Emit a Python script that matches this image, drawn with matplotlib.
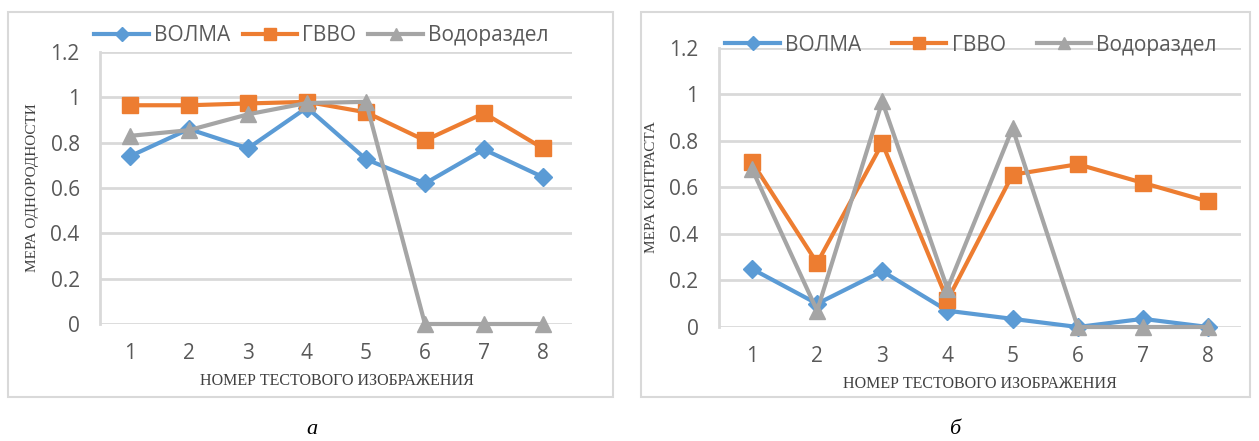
import matplotlib.pyplot as plt
from matplotlib.patches import Rectangle

# ---------------------------------------------- data ----------------------------------------------
images = [1, 2, 3, 4, 5, 6, 7, 8]
series_names = ['ВОЛМА', 'ГВВО', 'Водораздел']

# homogeneity measure
homog_volma = [0.74, 0.86, 0.775, 0.955, 0.727, 0.62, 0.77, 0.648]
homog_gvvo = [0.965, 0.965, 0.973, 0.98, 0.934, 0.81, 0.93, 0.775]
homog_vodo = [0.83, 0.855, 0.925, 0.975, 0.98, 0.0, 0.0, 0.0]

# contrast measure
contr_volma = [0.25, 0.10, 0.24, 0.07, 0.035, 0.0, 0.035, 0.0]
contr_gvvo = [0.71, 0.275, 0.79, 0.115, 0.655, 0.70, 0.62, 0.54]
contr_vodo = [0.68, 0.07, 0.97, 0.165, 0.855, 0.0, 0.0, 0.0]

y_ticks = [0, 0.2, 0.4, 0.6, 0.8, 1, 1.2]
y_tick_labels = ['0', '0.2', '0.4', '0.6', '0.8', '1', '1.2']

# ---------------------------------------------- style ----------------------------------------------
colors = ['#5B9BD5', '#ED7D31', '#A5A5A5']
markers = ['D', 's', '^']
msizes = [9, 12, 11]
grid_c = '#D9D9D9'
text_c = '#595959'

plt.rcParams['font.family'] = ['Open Sans', 'DejaVu Sans']


def draw_panel(ax, data, ylabel, legend_xy, colspace):
    for vals, name, c, m, ms in zip(data, series_names, colors, markers, msizes):
        ax.plot(images, vals, color=c, lw=3, marker=m, ms=ms, label=name,
                clip_on=False, zorder=3)
    ax.set_xlim(0.5, 8.5)
    ax.set_ylim(0, 1.2)
    ax.set_yticks(y_ticks)
    ax.set_yticklabels(y_tick_labels)
    ax.set_xticks(images)
    ax.grid(axis='y', color=grid_c, lw=2)
    ax.set_axisbelow(True)
    for s in ['top', 'right', 'bottom']:
        ax.spines[s].set_visible(False)
    ax.spines['left'].set_color(grid_c)
    ax.spines['left'].set_linewidth(2)
    ax.tick_params(length=0, labelsize=15, colors=text_c)
    ax.tick_params(axis='y', pad=15)
    ax.tick_params(axis='x', pad=14)
    ax.set_xlabel('НОМЕР ТЕСТОВОГО ИЗОБРАЖЕНИЯ', family='Liberation Serif',
                  fontsize=11.5, color='#404040', labelpad=6)
    ax.set_ylabel(ylabel, family='Liberation Serif', fontsize=11, color='#404040',
                  labelpad=8)
    ax.legend(loc='center', bbox_to_anchor=legend_xy, ncol=3, frameon=False,
              fontsize=15, handlelength=2.6, columnspacing=colspace,
              handletextpad=0.25, markerscale=0.75, labelcolor=text_c)


fig = plt.figure(figsize=(12.59, 4.41), dpi=100)

# panel frames
fig.patches.append(Rectangle((8 / 1259, 1 - 397 / 441), 605 / 1259, 385 / 441,
                             transform=fig.transFigure, fill=False, ec=grid_c, lw=1.5))
fig.patches.append(Rectangle((641 / 1259, 1 - 397 / 441), 609 / 1259, 385 / 441,
                             transform=fig.transFigure, fill=False, ec=grid_c, lw=1.5))

ax1 = fig.add_axes([0.0798, 0.2653, 0.3749, 0.6168])
draw_panel(ax1, [homog_volma, homog_gvvo, homog_vodo], 'МЕРА ОДНОРОДНОСТИ',
           (0.468, 1.06), 0.6)

ax2 = fig.add_axes([0.5714, 0.2585, 0.414, 0.6327])
draw_panel(ax2, [contr_volma, contr_gvvo, contr_vodo], 'МЕРА КОНТРАСТА',
           (0.483, 1.01), 1.5)

fig.text(312 / 1259, 1 - 430 / 441, 'а', family='Liberation Serif', style='italic',
         fontsize=16, ha='center', va='center')
fig.text(955 / 1259, 1 - 430 / 441, 'б', family='Liberation Serif', style='italic',
         fontsize=16, ha='center', va='center')

fig.savefig('out.png', dpi=100)
